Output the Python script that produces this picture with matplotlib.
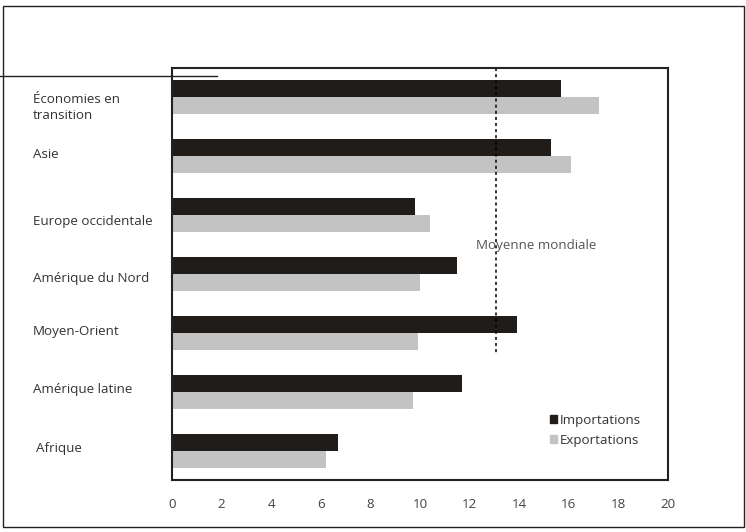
import matplotlib.pyplot as plt
from matplotlib.patches import Rectangle, Patch
from matplotlib.lines import Line2D

regions = ["Économies en\ntransition", "Asie", "Europe occidentale", "Amérique du Nord",
           "Moyen-Orient", "Amérique latine", "Afrique"]
importations = [15.7, 15.3, 9.8, 11.5, 13.9, 11.7, 6.7]
exportations = [17.2, 16.1, 10.4, 10.0, 9.9, 9.7, 6.2]
moyenne = 13.05
ticks = [0, 2, 4, 6, 8, 10, 12, 14, 16, 18, 20]

dark = '#201c19'
grey = '#c3c3c3'

plt.rcParams['font.family'] = ['Open Sans', 'DejaVu Sans']
fs = 9.6

fig = plt.figure(figsize=(7.46, 5.32), dpi=100)
W, H = 746, 532
ax = fig.add_axes([172 / W, 1 - 480 / H, (668 - 172) / W, (480 - 68) / H])

pos = list(range(len(regions)))
h = 0.29
ax.barh([p - h / 2 for p in pos], importations, height=h, color=dark, label='Importations')
ax.barh([p + h / 2 for p in pos], exportations, height=h, color=grey, label='Exportations')

ax.set_ylim(len(regions) - 0.5, -0.5)
ax.set_xlim(0, 20)
ax.set_xticks(ticks)
ax.set_xticklabels([str(t) for t in ticks], fontsize=fs, color='#444444')
ax.tick_params(axis='x', length=0, pad=13)
ax.set_yticks([])

# region labels sit a little unevenly in the original
dy = [0.17, -0.03, 0.1, 0.07, -0.03, -0.03, -0.03]
dx = [0, 0, 0, 0, 0, 0, 3]
for p, name, oy, ox in zip(pos, regions, dy, dx):
    ax.text((-139 + ox) / 24.8, p + oy, name, ha='left', va='center', fontsize=fs,
            color='#333333', linespacing=1.3, transform=ax.transData, clip_on=False)

# world average
ax.plot([moyenne, moyenne], [-0.5, 4.38], color='black', linestyle=(0, (2, 2)), linewidth=1.1)
ax.text(moyenne - 0.8, 2.52, 'Moyenne mondiale', fontsize=fs, color='#555555', va='center')

for s in ax.spines.values():
    s.set_linewidth(1.5)
    s.set_color('#222222')

handles = [Patch(color=dark, label='Importations'), Patch(color=grey, label='Exportations')]
leg = ax.legend(handles=handles, loc='upper left', bbox_to_anchor=(0.738, 0.19), frameon=False,
                handlelength=0.55, handleheight=0.55, handletextpad=0.15, labelspacing=0.55,
                fontsize=fs)
for t in leg.get_texts():
    t.set_color('#333333')

# outer frame and the stray rule at top left
fig.add_artist(Rectangle((3 / W, 1 - 527 / H), (744 - 3) / W, (527 - 6) / H, transform=fig.transFigure,
                         fill=False, edgecolor='#222222', linewidth=1.0))
fig.add_artist(Line2D([0, 217 / W], [1 - 76 / H, 1 - 76 / H], transform=fig.transFigure,
                      color='#222222', linewidth=1.0))

fig.savefig('out.png', dpi=100)
